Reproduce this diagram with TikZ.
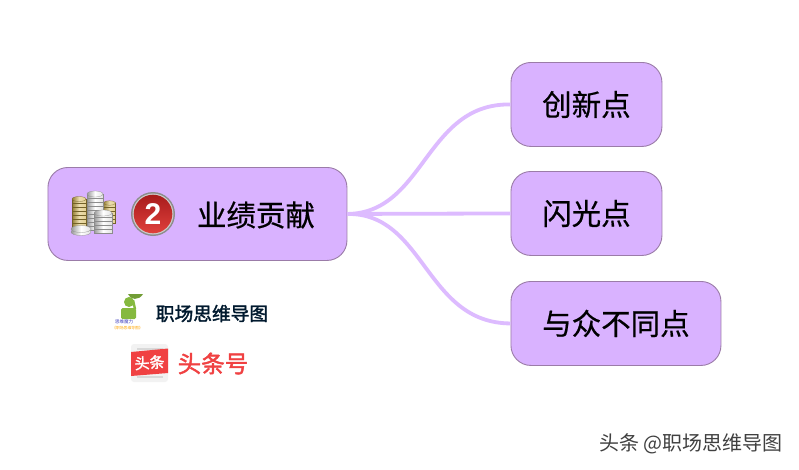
\documentclass[tikz,border=0pt]{standalone}
\usepackage{fontspec}
\newfontfamily\cjk{Noto Sans CJK SC}[FakeBold=0.5]
\newfontfamily\cjkr{Noto Sans CJK SC}
\newfontfamily\cjkb{Noto Sans CJK SC}[FakeBold=1.8]
\begin{document}
\begin{tikzpicture}[x=1pt,y=-1pt,
  topicbox/.style={draw=boxline,line width=0.9pt,fill=boxfill,rounded corners=20pt,inner sep=0pt,anchor=north west,font=\cjk\fontsize{29.5}{30}\selectfont,text=black},
  branch/.style={draw=linkcol,line width=3.8pt},
  coinG/.style={draw=gold!55!black,line width=0.25pt,left color=gold!70!black,right color=gold!60!white,middle color=gold!45!white},
  coinS/.style={draw=black!45,line width=0.25pt,left color=black!40,right color=black!12,middle color=white}]
\definecolor{boxfill}{HTML}{D9B2FF}
\definecolor{boxline}{HTML}{9B7CA8}
\definecolor{linkcol}{HTML}{DDBBFF}
\definecolor{gold}{HTML}{D2B24A}
\definecolor{logogreen}{HTML}{85B93F}
\definecolor{toured}{HTML}{F04142}
\definecolor{badgelight}{HTML}{E0403C}
\definecolor{badgedark}{HTML}{A81C1C}
\useasboundingbox (0,0) rectangle (799,469);
\fill[white] (0,0) rectangle (799,469);
% topics
\node[topicbox,minimum width=299pt,minimum height=93pt] (m) at (47.5,167) {};
\node[topicbox,minimum width=151pt,minimum height=84pt] (a) at (510.5,62) {创新点};
\node[topicbox,minimum width=151pt,minimum height=84pt] (b) at (510.5,171) {闪光点};
\node[topicbox,minimum width=210pt,minimum height=84pt] (c) at (510.5,281) {与众不同点};
\node[font=\cjk\fontsize{29.5}{30}\selectfont,text=black,anchor=center] (mt) at (256,215) {业绩贡献};
% connectors
\draw[branch] (m.east) .. controls (425,213) and (425,103) .. (a.west);
\draw[branch] (m.east) -- (b.west);
\draw[branch] (m.east) .. controls (425,213) and (425,323) .. (c.west);
% coins icon
\foreach \yy in {223,219,215,211,207,203,199}{\draw[coinG] (72,\yy) rectangle (86,\yy+4);}
\draw[coinG] (79,199) ellipse (7 and 2.5);
\foreach \yy in {219,215,211,207,203}{\draw[coinG] (103,\yy) rectangle (115.5,\yy+4);}
\draw[coinG] (109.5,203) ellipse (6.2 and 2.2);
\foreach \yy in {226,222,218,214,210,206,202,198,194}{\draw[coinS] (87,\yy) rectangle (103,\yy+4);}
\draw[coinS] (95,194) ellipse (8 and 3);
\foreach \yy in {229,225,221,217,213}{\draw[coinS] (94,\yy) rectangle (112,\yy+4);}
\draw[coinS] (103,213) ellipse (9 and 3);
\draw[coinS] (81,232) ellipse (10 and 3.5);
\draw[coinS] (81,229) ellipse (10 and 3.5);
% badge
\fill[black!45] (153,214) circle (22);
\fill[black!20] (153,214) circle (20.5);
\shade[top color=badgedark,bottom color=badgelight] (153,214) circle (19.3);
\node[font=\fontspec{Liberation Sans}\bfseries\fontsize{30}{30}\selectfont,text=white] (two) at (153,214) {2};
% brand logo
\fill[logogreen,rounded corners=1.5pt] (121,308) rectangle (136,319);
\fill[logogreen] (129,302) circle (5);
\draw[logogreen,line width=2.4pt] (135,309) -- (133,300);
\fill[logogreen!85!black] (128,294) .. controls (130,300) and (139,301) .. (143,294) -- cycle;
\node[font=\cjkr\fontsize{4.5}{5}\selectfont,text=blue!50!gray] (l1) at (124,322) {思维魔力};
\node[font=\cjkr\fontsize{3.8}{5}\selectfont,text=orange!70!yellow] (l2) at (127.5,328) {《职场思维导图》};
\node[font=\cjkb\fontsize{18.7}{19}\selectfont,text=black!80!blue!90!green] (brand) at (212,313.5) {职场思维导图};
% toutiao logo
\fill[black!5,rounded corners=3pt] (131,344) rectangle (168,382);
\fill[black!15] (137,348) rectangle (163,350);
\fill[black!15] (137,376) rectangle (163,378);
\fill[toured] (131,352) -- (168,348.5) -- (168,373) -- (131,376) -- cycle;
\node[font=\cjkb\fontsize{15}{16}\selectfont,text=white,rotate=4] (tt) at (149.5,362.5) {头条};
\node[font=\cjkb\fontsize{23.5}{24}\selectfont,text=toured] (ttn) at (213,363.5) {头条号};
% watermark
\node[font=\cjkr\fontsize{20}{20}\selectfont,text=black!75,anchor=east] (wm) at (786,444) {头条 @职场思维导图};
\end{tikzpicture}
\end{document}
